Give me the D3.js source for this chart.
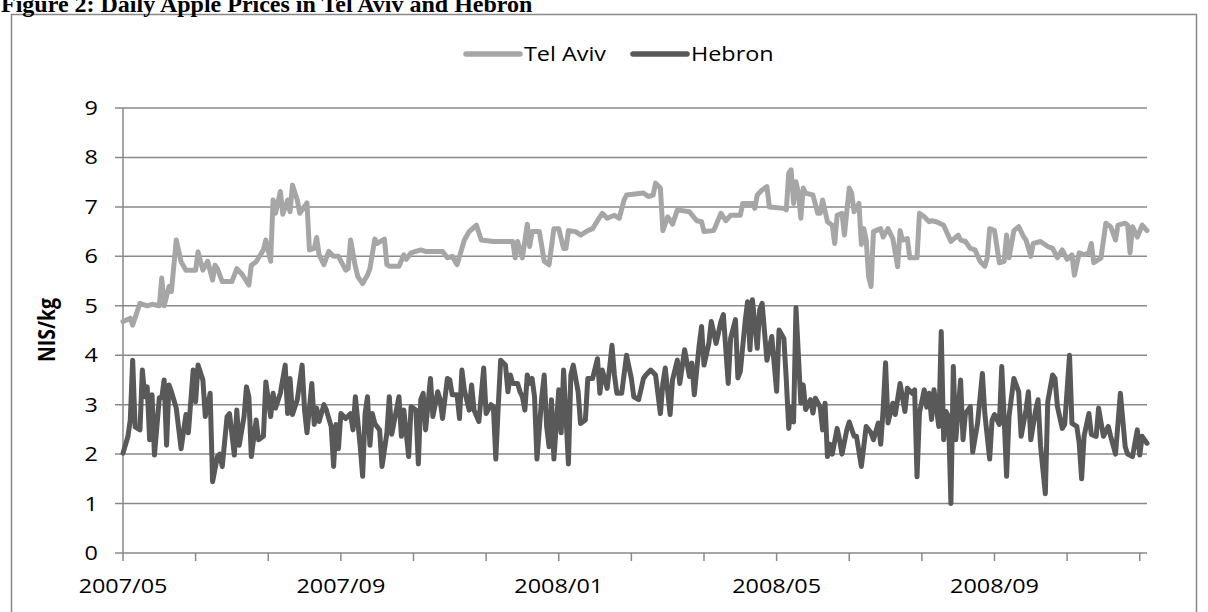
<!DOCTYPE html>
<html>
<head>
<meta charset="utf-8">
<script src="https://cdn.jsdelivr.net/npm/d3@7"></script>
<style>
  body { margin: 0; background: #fff; }
  svg { display: block; }
</style>
</head>
<body>
<svg id="chart" width="1208" height="612"></svg>
<script>
const telAviv = [[0,4.68],[3,4.75],[4,4.61],[7,5.05],[10,5.0],[12,5.03],[15,5.0],[16,5.56],[17,5.0],[19,5.39],[20,5.29],[22,6.33],[24,5.89],[26,5.72],[30,5.72],[31,6.09],[33,5.72],[35,5.9],[37,5.52],[38,5.82],[39,5.75],[41,5.49],[45,5.49],[47,5.75],[49,5.65],[52,5.42],[53,5.82],[55,5.89],[58,6.13],[59,6.33],[61,5.9],[62,7.14],[63,6.87],[65,7.31],[66,6.85],[68,7.14],[69,6.9],[70,7.44],[72,7.14],[73,6.87],[74,6.94],[76,7.08],[77,6.13],[79,6.16],[80,6.38],[81,6.03],[83,5.83],[85,6.1],[87,6.0],[89,6.0],[92,5.72],[93,5.75],[94,6.33],[96,5.79],[97,5.59],[99,5.45],[101,5.62],[102,5.75],[104,6.35],[105,6.26],[108,6.35],[109,5.83],[110,5.8],[114,5.8],[116,6.03],[117,5.94],[119,6.07],[123,6.13],[125,6.1],[132,6.1],[134,5.97],[136,6.0],[138,5.83],[141,6.33],[143,6.5],[146,6.63],[148,6.33],[153,6.3],[161,6.3],[162,5.97],[163,6.3],[165,5.97],[167,6.65],[168,6.2],[169,6.5],[172,6.5],[174,5.9],[176,5.83],[178,6.56],[180,6.56],[182,6.16],[183,6.16],[184,6.52],[187,6.5],[189,6.43],[192,6.52],[194,6.56],[196,6.72],[198,6.87],[200,6.77],[203,6.83],[205,6.77],[207,7.14],[208,7.24],[215,7.28],[217,7.21],[219,7.24],[220,7.48],[222,7.38],[223,6.52],[225,6.8],[227,6.65],[229,6.94],[234,6.9],[237,6.72],[239,6.7],[240,6.5],[244,6.52],[247,6.87],[249,6.72],[251,6.83],[255,6.83],[256,7.07],[260,7.07],[261,6.97],[262,7.24],[264,7.34],[266,7.41],[267,7.0],[273,6.97],[274,6.94],[275,7.68],[276,7.75],[277,7.07],[278,7.51],[279,7.28],[280,6.77],[281,7.38],[282,7.28],[285,7.24],[287,6.87],[288,6.87],[289,7.14],[291,6.7],[293,6.63],[294,6.26],[295,6.83],[297,6.87],[298,6.43],[300,7.38],[301,7.28],[302,6.9],[304,7.07],[305,6.24],[306,6.56],[307,6.33],[308,5.59],[309,5.39],[310,6.5],[313,6.56],[314,6.39],[316,6.56],[318,6.36],[320,5.79],[321,6.52],[322,6.33],[324,6.36],[325,5.97],[328,5.97],[329,6.87],[331,6.8],[333,6.7],[334,6.72],[336,6.7],[339,6.63],[342,6.3],[345,6.43],[346,6.33],[348,6.3],[350,6.16],[352,6.13],[354,5.9],[356,5.8],[357,5.97],[358,6.56],[360,6.52],[362,5.87],[364,5.9],[365,6.43],[366,5.97],[368,6.52],[370,6.6],[372,6.4],[373,6.33],[375,6.0],[376,6.26],[379,6.3],[382,6.2],[384,6.16],[386,5.97],[388,6.13],[390,5.94],[392,6.03],[393,5.62],[395,6.07],[397,6.03],[399,6.07],[400,6.26],[401,5.87],[404,5.97],[406,6.67],[408,6.6],[410,6.33],[411,6.63],[414,6.67],[415,6.63],[416,6.07],[417,6.6],[419,6.39],[421,6.63],[423,6.52]];

const hebron = [[0,2.02],[2,2.35],[3,2.69],[4,3.9],[5,2.55],[7,2.49],[8,3.7],[9,3.16],[10,3.36],[11,2.29],[12,3.2],[13,1.98],[15,3.14],[16,3.14],[17,3.5],[18,2.18],[19,3.4],[20,3.26],[22,2.93],[24,2.11],[26,2.8],[27,2.43],[29,3.7],[30,3.06],[31,3.8],[33,3.5],[34,2.76],[36,3.23],[37,1.44],[39,1.95],[40,2.0],[41,1.75],[43,2.76],[44,2.82],[46,1.98],[47,2.89],[48,2.18],[50,2.76],[51,3.36],[52,3.16],[53,1.95],[55,2.69],[56,2.29],[58,2.36],[59,3.46],[61,2.76],[62,3.23],[63,2.93],[65,3.23],[67,3.8],[68,2.82],[69,3.53],[70,2.8],[72,3.1],[74,3.8],[75,2.89],[76,2.43],[78,3.43],[79,2.6],[80,2.93],[81,2.66],[83,3.0],[84,2.89],[86,2.56],[87,1.75],[88,2.6],[89,2.11],[90,2.82],[92,2.72],[94,2.82],[95,2.49],[96,3.16],[98,2.15],[99,1.55],[100,2.82],[101,3.16],[102,2.18],[103,2.82],[104,2.62],[106,2.49],[107,1.75],[109,2.43],[110,3.16],[111,2.4],[114,3.16],[115,2.36],[116,2.89],[118,1.95],[119,2.96],[121,2.89],[122,1.8],[123,3.1],[124,3.23],[125,2.49],[127,3.53],[128,2.76],[130,3.26],[131,3.1],[132,2.72],[134,3.53],[135,3.5],[136,3.2],[138,3.2],[139,2.72],[140,3.7],[141,3.3],[143,2.89],[144,3.4],[145,2.89],[147,2.66],[149,3.74],[150,2.82],[152,3.0],[153,2.96],[154,1.9],[155,2.96],[156,3.9],[158,3.8],[159,3.26],[160,3.6],[161,3.43],[163,3.43],[164,3.26],[165,3.16],[166,2.89],[167,3.6],[168,3.43],[169,3.53],[170,3.16],[171,1.9],[173,3.16],[174,3.6],[175,2.56],[176,2.15],[177,3.1],[178,1.9],[180,3.3],[181,2.43],[182,3.7],[184,1.8],[185,3.6],[186,3.8],[188,3.26],[189,2.62],[191,2.69],[192,3.53],[194,3.53],[196,3.93],[197,3.23],[198,3.7],[200,3.33],[201,3.74],[202,4.2],[203,3.6],[204,3.23],[206,3.23],[208,4.0],[210,3.53],[211,3.16],[213,3.1],[215,3.53],[216,3.6],[218,3.7],[220,3.6],[222,2.82],[223,3.43],[224,3.74],[226,2.8],[227,3.5],[229,3.9],[230,3.43],[232,4.11],[234,3.57],[235,3.84],[236,3.2],[238,4.2],[239,4.58],[240,3.8],[242,4.24],[243,4.68],[245,4.24],[247,4.68],[248,4.82],[250,3.43],[251,4.34],[253,4.72],[254,3.54],[255,3.67],[257,4.68],[258,5.08],[259,4.11],[260,5.12],[262,4.14],[263,4.92],[264,5.05],[266,3.9],[268,4.38],[270,3.27],[271,4.51],[273,4.34],[274,3.5],[275,2.52],[276,2.95],[277,2.65],[278,4.96],[280,3.03],[281,3.4],[282,2.9],[284,3.1],[285,2.83],[286,3.13],[288,2.95],[289,2.49],[290,3.03],[291,1.95],[292,2.2],[293,2.0],[295,2.52],[296,2.29],[297,2.0],[299,2.49],[300,2.65],[302,2.36],[303,2.36],[305,1.75],[307,2.56],[309,2.43],[310,2.29],[312,2.63],[313,2.2],[314,2.9],[315,3.85],[316,2.63],[318,3.03],[319,2.8],[321,3.43],[323,2.86],[324,3.33],[326,3.23],[327,3.3],[328,1.54],[329,2.83],[331,3.3],[332,2.95],[333,3.23],[334,2.7],[335,3.3],[337,2.56],[338,4.48],[339,2.29],[340,2.86],[341,2.76],[342,1.0],[343,3.77],[344,2.29],[346,3.5],[347,2.29],[348,2.82],[350,2.96],[351,2.04],[353,2.62],[355,3.63],[356,2.82],[358,1.9],[359,2.69],[360,2.8],[362,2.6],[363,3.77],[364,2.72],[365,1.55],[366,2.76],[368,3.53],[370,3.26],[371,2.36],[373,2.89],[374,3.26],[375,2.29],[377,2.89],[378,3.1],[379,2.18],[381,1.2],[382,3.06],[384,3.6],[385,3.53],[386,2.96],[388,2.52],[389,2.6],[391,4.0],[392,2.62],[394,2.56],[395,2.22],[396,1.5],[397,2.36],[399,2.82],[400,2.4],[402,2.36],[403,2.93],[405,2.36],[407,2.56],[408,2.36],[410,2.0],[412,3.23],[414,2.15],[415,2.0],[417,1.95],[419,2.49],[420,1.98],[421,2.36],[423,2.22]];

const seriesNames = ['Tel Aviv', 'Hebron'];
const seriesColors = ['#a6a6a6', '#595959'];

// category axis: 424 observations, a tick every 30, a label every 90
const nObs = 424;
const tickEvery = 30;
const xLabels = ['2007/05', '2007/09', '2008/01', '2008/05', '2008/09'];
const labelEvery = 90;
const yTicks = [0, 1, 2, 3, 4, 5, 6, 7, 8, 9];

const titleText = 'Figure 2: Daily Apple Prices in Tel Aviv and Hebron';
const yTitle = 'NIS/kg';

const font = "'Open Sans', sans-serif";
const fontSize = 19.5;
const stretch = 1.2; // text in the original is wider than normal
const gridColor = '#898989';

const svg = d3.select('#chart');

const x = d3.scaleLinear().domain([0, nObs - 1]).range([123, 1147]);
const y = d3.scaleLinear().domain([0, 9]).range([553, 108]);

// outer frame of the chart
svg.append('rect')
  .attr('x', 11.5)
  .attr('y', 14.5)
  .attr('width', 1185)
  .attr('height', 640)
  .attr('fill', 'none')
  .attr('stroke', gridColor)
  .attr('stroke-width', 1.5);

// title, sitting above the frame
svg.append('text')
  .attr('x', 1)
  .attr('y', 12)
  .attr('font-family', "'Liberation Serif', 'Times New Roman', serif")
  .attr('font-weight', 'bold')
  .attr('font-size', 24)
  .attr('fill', '#000')
  .text(titleText);

// gridlines (with the short tick stub on the left)
svg.append('g')
  .selectAll('line')
  .data(yTicks)
  .join('line')
  .attr('x1', x(0) - 8)
  .attr('x2', x(nObs - 1))
  .attr('y1', (d) => y(d))
  .attr('y2', (d) => y(d))
  .attr('stroke', gridColor)
  .attr('stroke-width', 1.5);

// y axis line
svg.append('line')
  .attr('x1', x(0))
  .attr('x2', x(0))
  .attr('y1', y(9))
  .attr('y2', y(0))
  .attr('stroke', gridColor)
  .attr('stroke-width', 1.5);

// x ticks
const xTickValues = d3.range(0, nObs, tickEvery);
svg.append('g')
  .selectAll('line')
  .data(xTickValues)
  .join('line')
  .attr('x1', (d) => x(d))
  .attr('x2', (d) => x(d))
  .attr('y1', y(0))
  .attr('y2', y(0) + 8)
  .attr('stroke', gridColor)
  .attr('stroke-width', 1.5);

// y tick labels
svg.append('g')
  .attr('font-family', font)
  .attr('font-size', fontSize)
  .attr('fill', '#000')
  .selectAll('text')
  .data(yTicks)
  .join('text')
  .attr('text-anchor', 'end')
  .attr('dy', '0.36em')
  .attr('transform', (d) => `translate(98,${y(d)}) scale(${stretch},1)`)
  .text((d) => d);

// x tick labels
svg.append('g')
  .attr('font-family', font)
  .attr('font-size', fontSize)
  .attr('fill', '#000')
  .selectAll('text')
  .data(xLabels)
  .join('text')
  .attr('text-anchor', 'middle')
  .attr('transform', (d, i) => `translate(${x(i * labelEvery)},593) scale(${stretch},1)`)
  .text((d) => d);

// y axis title
svg.append('text')
  .attr('font-family', font)
  .attr('font-size', fontSize)
  .attr('font-weight', 'bold')
  .attr('text-anchor', 'middle')
  .attr('transform', `translate(55,330) rotate(-90) scale(1,${stretch})`)
  .text(yTitle);

// series lines
const line = d3.line()
  .x((d) => x(d[0]))
  .y((d) => y(d[1]));

svg.append('g')
  .selectAll('path')
  .data([telAviv, hebron])
  .join('path')
  .attr('d', line)
  .attr('fill', 'none')
  .attr('stroke', (d, i) => seriesColors[i])
  .attr('stroke-width', 5)
  .attr('stroke-linejoin', 'round')
  .attr('stroke-linecap', 'round');

// legend
const legendX = [466, 633];
const legend = svg.append('g')
  .selectAll('g')
  .data(seriesNames)
  .join('g')
  .attr('transform', (d, i) => `translate(${legendX[i]},54)`);

legend.append('line')
  .attr('x1', 0)
  .attr('x2', 54)
  .attr('stroke', (d, i) => seriesColors[i])
  .attr('stroke-width', 5.5)
  .attr('stroke-linecap', 'round');

legend.append('text')
  .attr('font-family', font)
  .attr('font-size', fontSize)
  .attr('dy', '0.36em')
  .attr('transform', `translate(58,0) scale(${stretch},1)`)
  .text((d) => d);
</script>
</body>
</html>
